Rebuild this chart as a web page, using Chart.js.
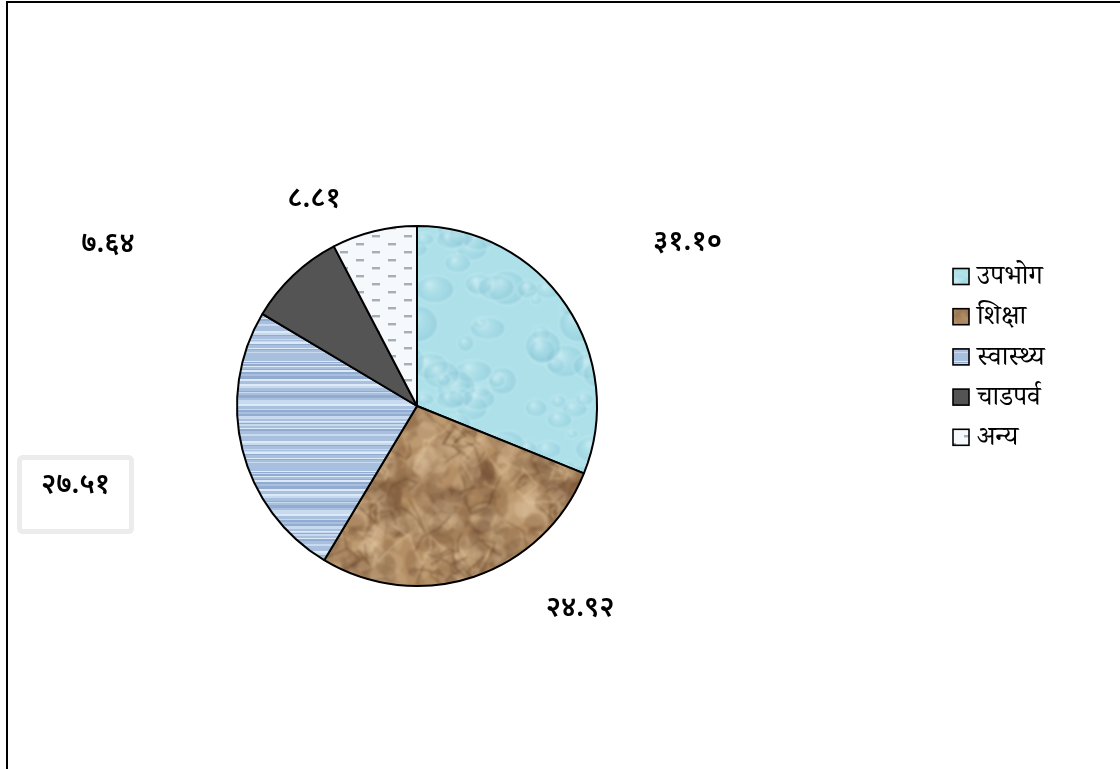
<!DOCTYPE html>
<html><head><meta charset="utf-8">
<script src="https://cdn.jsdelivr.net/npm/chart.js@4/dist/chart.umd.min.js"></script>
<style>
html,body{margin:0;padding:0;background:#fff;overflow:hidden}
#wrap{position:relative;width:1120px;height:769px;overflow:hidden}
canvas{position:absolute;left:0;top:0}
#frame{position:absolute;left:6px;top:1px;width:1300px;height:900px;border-top:2px solid #000;border-left:2px solid #000;pointer-events:none}
</style></head>
<body><div id="wrap"><canvas id="c" width="1120" height="769"></canvas><div id="frame"></div></div>
<script>
// ---- data ----
const categories = ['उपभोग', 'शिक्षा', 'स्वास्थ्य', 'चाडपर्व', 'अन्य'];
// slice sizes as drawn (angles measured in the reference)
const sliceValues = [31.10, 27.51, 24.92, 8.81, 7.64];
// value labels exactly as printed next to each slice in the reference
const printedLabels = ['३१.१०', '२४.९२', '२७.५१', '७.६४', '८.८१'];

// ---- layout / style ----
const DEV_FONT = '"Noto Sans Devanagari","Noto Serif Devanagari","Lohit Devanagari","Mangal","FreeSerif","Noto Sans",sans-serif';
const LEG_FONT = '"Noto Serif Devanagari","Noto Sans Devanagari","Lohit Devanagari","Mangal",serif';
const labelOffsets = [[1.503,-0.894],[0.906,1.14],[-1.897,0.456],[-1.717,-0.883],[-0.572,-1.133]]; // radius units from pie centre
const boxedLabel = 2;

function prng(seed){let s=seed;return()=>{s=(s*16807)%2147483647;return s/2147483647;};}
function mk(w,h){const c=document.createElement('canvas');c.width=w;c.height=h;return c;}
function blurred(src,px){
  const W=src.width,H=src.height,big=mk(W*3,H*3),bg=big.getContext('2d');
  for(let i=0;i<3;i++)for(let j=0;j<3;j++)bg.drawImage(src,i*W,j*H);
  const c=mk(W,H),g=c.getContext('2d');g.filter='blur('+px+'px)';g.drawImage(big,-W,-H);return c;}
function wrapDraw(w,h,x,y,fn){for(const dx of [-w,0,w])for(const dy of [-h,0,h])fn(x+dx,y+dy);}

function waterTile(){
  const W=160,H=160,c=mk(W,H),g=c.getContext('2d');
  g.fillStyle='#ade0e9';g.fillRect(0,0,W,H);
  const R=prng(11);
  for(let i=0;i<40;i++){
    const x=R()*W,y=R()*H,rx=6+R()*14,ry=rx*(0.6+R()*0.4);
    wrapDraw(W,H,x,y,(px,py)=>{
      const grd=g.createRadialGradient(px-rx*0.3,py-ry*0.4,0.5,px,py,Math.max(rx,ry));
      grd.addColorStop(0,'rgba(235,250,252,0.45)');
      grd.addColorStop(0.5,'rgba(150,208,222,0.25)');
      grd.addColorStop(1,'rgba(110,180,200,0.35)');
      g.fillStyle=grd;g.beginPath();g.ellipse(px,py,rx,ry,0,0,Math.PI*2);g.fill();
      g.strokeStyle='rgba(205,240,246,0.55)';g.lineWidth=1.5;g.stroke();
    });
  }
  return blurred(c,1.2);
}
function paperTile(){
  const W=180,H=180,c=mk(W,H),g=c.getContext('2d');
  g.fillStyle='#b48f65';g.fillRect(0,0,W,H);
  const R=prng(29);
  for(let i=0;i<320;i++){
    const x=R()*W,y=R()*H,r=3+R()*16,rot=R()*Math.PI,light=R()<0.52,ar=0.35+R()*0.6;
    const col=light?'rgba(225,198,160,0.22)':'rgba(105,72,44,0.2)';
    wrapDraw(W,H,x,y,(px,py)=>{g.fillStyle=col;g.beginPath();g.ellipse(px,py,r,r*ar,rot,0,Math.PI*2);g.fill();});
  }
  for(let i=0;i<55;i++){
    let x=R()*W,y=R()*H;const pts=[[x,y]];
    for(let k=0;k<4;k++){x+=(R()-0.5)*36;y+=(R()-0.5)*36;pts.push([x,y]);}
    const dark=R()<0.6;
    wrapDraw(W,H,0,0,(ox,oy)=>{
      g.beginPath();pts.forEach((p,j)=>j?g.lineTo(p[0]+ox,p[1]+oy):g.moveTo(p[0]+ox,p[1]+oy));
      g.strokeStyle=dark?'rgba(88,58,32,0.35)':'rgba(232,208,172,0.38)';g.lineWidth=1.8;g.stroke();
    });
  }
  return blurred(c,1.3);
}
function stripeTile(){
  const W=4,H=110,c=mk(W,H),g=c.getContext('2d');
  g.fillStyle='#a8bfdd';g.fillRect(0,0,W,H);
  const R=prng(5);let y=0;
  while(y<H){const h=1+Math.floor(R()*2),t=R();
    const col=t<0.26?'#c8daef':t<0.38?'#dceaf7':t<0.56?'#91acd0':'#a8bfdd';
    g.fillStyle=col;g.fillRect(0,y,W,h);y+=h;}
  return c;
}
function dashTile(){
  const W=32,H=16,c=mk(W,H),g=c.getContext('2d');
  g.fillStyle='#f6f9fc';g.fillRect(0,0,W,H);
  g.fillStyle='rgba(140,146,158,0.75)';
  g.fillRect(4,3,8,2);g.fillRect(20,11,8,2);
  g.fillStyle='rgba(205,212,224,0.8)';
  g.fillRect(4,5,8,1);g.fillRect(20,13,8,1);
  return blurred(c,0.5);
}
const ctx0=document.getElementById('c').getContext('2d');
const fills=[
  ctx0.createPattern(waterTile(),'repeat'),
  ctx0.createPattern(paperTile(),'repeat'),
  ctx0.createPattern(stripeTile(),'repeat'),
  '#545454',
  ctx0.createPattern(dashTile(),'repeat')
];

const labelPlugin={
  id:'printedLabels',
  afterDatasetsDraw(chart){
    const g=chart.ctx,meta=chart.getDatasetMeta(0);
    g.save();
    g.font='600 28px '+DEV_FONT;g.fillStyle='#000';g.textAlign='center';g.textBaseline='middle';
    meta.data.forEach((arc,i)=>{
      const r=arc.outerRadius,x=arc.x+labelOffsets[i][0]*r,y=arc.y+labelOffsets[i][1]*r;
      if(i===boxedLabel){
        const w=112,h=74;
        g.save();g.strokeStyle='#ececec';g.lineWidth=5;
        g.beginPath();g.roundRect(x-w/2,y-h/2+6.5,w,h,3);g.stroke();g.restore();
      }
      g.fillText(printedLabels[i],x,y);
    });
    g.restore();
  }
};
const legendPlugin={
  id:'sideLegend',
  afterDraw(chart){
    const g=chart.ctx;const x0=953,y0=276.5,step=40.2,bs=16;
    g.save();g.font='27px '+LEG_FONT;g.textBaseline='middle';g.textAlign='left';
    chart.data.labels.forEach((lab,i)=>{
      const y=y0+i*step;
      g.fillStyle=chart.data.datasets[0].backgroundColor[i];
      g.fillRect(x0,y-bs/2,bs,bs);
      g.strokeStyle='#000';g.lineWidth=1.6;g.strokeRect(x0,y-bs/2,bs,bs);
      g.fillStyle='#000';g.fillText(lab,x0+bs+8,y+5);
    });
    g.restore();
  }
};

new Chart(document.getElementById('c'),{
  type:'pie',
  data:{labels:categories,datasets:[{data:sliceValues,backgroundColor:fills,borderColor:'#000',borderWidth:2}]},
  options:{
    responsive:false,animation:false,events:[],
    radius:180,
    layout:{padding:{left:237,right:523,top:224,bottom:181}},
    plugins:{legend:{display:false},tooltip:{enabled:false}}
  },
  plugins:[labelPlugin,legendPlugin]
});
</script></body></html>
